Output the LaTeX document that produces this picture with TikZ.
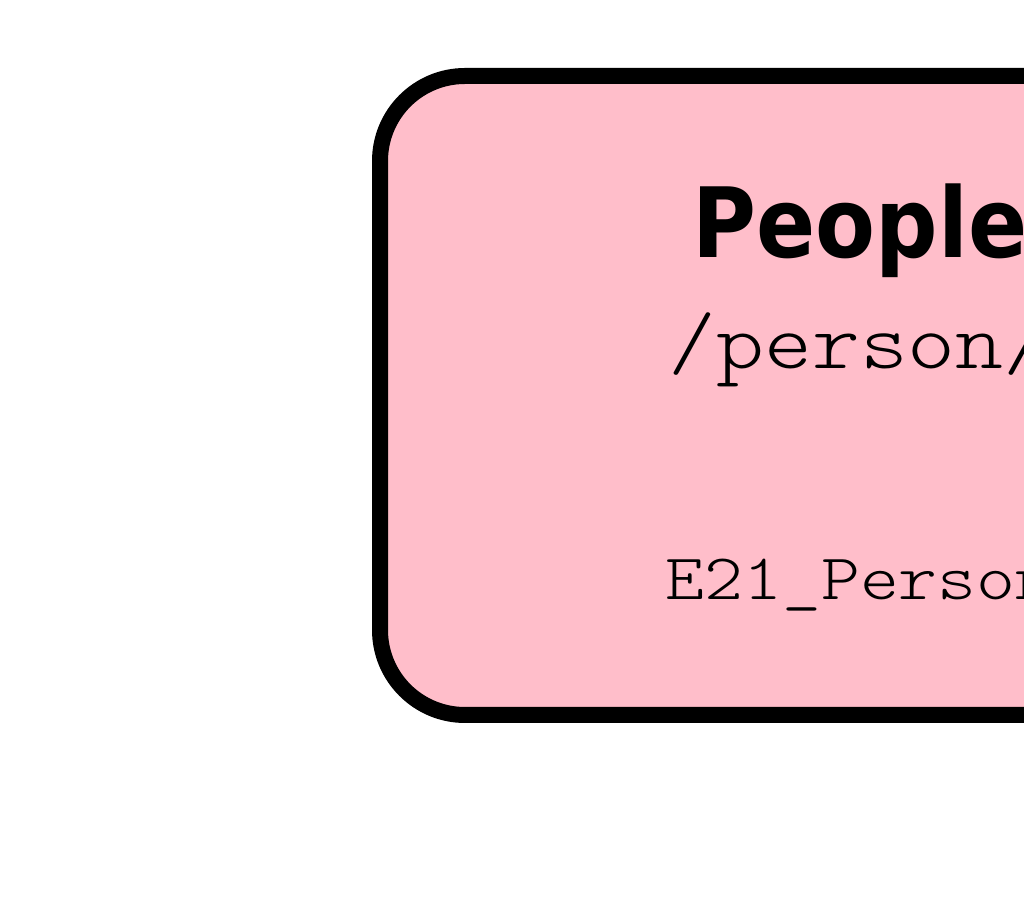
\documentclass[tikz,border=0pt]{standalone}
\usepackage{fontspec}
\usepackage{graphicx}
\newfontfamily\titlefont{DejaVu Sans Condensed}
\newfontfamily\lightmono{Latin Modern Mono Light}
\definecolor{boxpink}{RGB}{255,190,202}
\begin{document}
\begin{tikzpicture}[x=1pt,y=1pt,
  entitybox/.style={draw=black, fill=boxpink, line width=16pt, rounded corners=85pt,
    rectangle, minimum width=960pt, minimum height=639pt, inner sep=0pt},
  titletext/.style={anchor=base, inner sep=0pt, font=\titlefont\bfseries\fontsize{97}{110}\selectfont},
  pathtext/.style={anchor=base, inner sep=0pt, font=\lightmono\fontsize{80}{90}\selectfont},
  classtext/.style={anchor=base, inner sep=0pt, font=\lightmono\fontsize{65}{72}\selectfont}]
\useasboundingbox (0,0) rectangle (1024,912);
\clip (0,0) rectangle (1024,912);
\fill[white] (0,0) rectangle (1024,912);
\node[entitybox] (box) at (860,516.5) {};
\node[titletext] (title) at (860,654) {People};
\node[pathtext] (path) at (860,543) {\scalebox{1.14}[1]{/person/}};
\node[classtext] (cls) at (860,312) {\scalebox{1.14}[1]{E21\_Person}};
\end{tikzpicture}
\end{document}
